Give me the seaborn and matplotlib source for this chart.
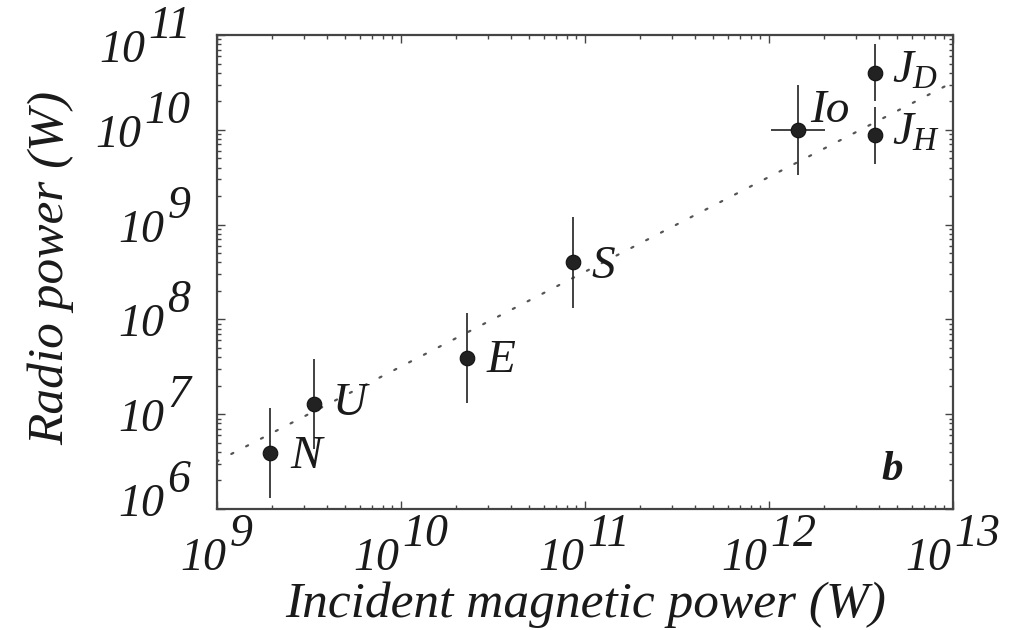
import numpy as np
import pandas as pd
import matplotlib
matplotlib.use("Agg")
import matplotlib.pyplot as plt
import seaborn as sns
from matplotlib.offsetbox import TextArea, HPacker, VPacker, DrawingArea, AnnotationBbox
from matplotlib.ticker import LogLocator, NullFormatter

# ---------------- data ----------------
bodies = ["N", "U", "E", "S", "Io", "$J_D$", "$J_H$"]
incident_power = [1.95e9, 3.4e9, 2.3e10, 8.7e10, 1.45e12, 3.8e12, 3.8e12]
radio_power = [3.9e6, 1.28e7, 3.9e7, 4.0e8, 1.0e10, 4.0e10, 8.8e9]
radio_err_factor = [3.0, 3.0, 3.0, 3.0, 3.0, 2.0, 2.0]
incident_err_factor = [1.0, 1.0, 1.0, 1.0, 1.4, 1.0, 1.0]
fit_x = [1e9, 1e13]
fit_y = [10 ** 6.5, 10 ** 10.5]
x_tick_exps = [9, 10, 11, 12, 13]
y_tick_exps = [6, 7, 8, 9, 10, 11]

# ---------------- styling ----------------
# label offsets in pixels (dx, dy) relative to the point, baseline anchored
label_offsets = [(20, -15), (18, -11), (20, -14), (18, -16), (12, 8), (17, -10), (17, -10)]
# vertical nudges (pixels, positive = up) for y tick labels, as in the original
y_label_nudge = {6: 10, 11: -10}

sns.set_theme(style="ticks")
plt.rcParams["font.family"] = ["Liberation Serif", "DejaVu Serif"]
plt.rcParams["mathtext.fontset"] = "custom"
plt.rcParams["mathtext.it"] = "Liberation Serif:italic"
plt.rcParams["mathtext.rm"] = "Liberation Serif"

fig = plt.figure(figsize=(10.21, 6.30), dpi=100)
ax = fig.add_axes([216.5 / 1021, 1 - 509 / 630, 736 / 1021, 474 / 630])

df = pd.DataFrame({"x": incident_power, "y": radio_power,
                   "fy": radio_err_factor, "fx": incident_err_factor})

# fit line
ax.plot(fit_x, fit_y, color="#555555", lw=1.6, linestyle=(0, (1, 6.5)),
        dash_capstyle="round", zorder=1)

# error bars
yerr = np.vstack([df["y"] - df["y"] / df["fy"], df["y"] * df["fy"] - df["y"]])
xerr = np.vstack([df["x"] - df["x"] / df["fx"], df["x"] * df["fx"] - df["x"]])
ax.errorbar(df["x"], df["y"], yerr=yerr, xerr=xerr, fmt="none",
            ecolor="#333333", elinewidth=1.3, capsize=0, zorder=2)

sns.scatterplot(data=df, x="x", y="y", ax=ax, s=110, color="#222222",
                edgecolor="#111111", linewidth=0.8, zorder=3, legend=False)

ax.set_xscale("log")
ax.set_yscale("log")
ax.set_xlim(1e9, 1e13)
ax.set_ylim(1e6, 1e11)
ax.xaxis.set_minor_locator(LogLocator(base=10, subs=np.arange(2, 10)))
ax.yaxis.set_minor_locator(LogLocator(base=10, subs=np.arange(2, 10)))
ax.xaxis.set_minor_formatter(NullFormatter())
ax.yaxis.set_minor_formatter(NullFormatter())
ax.tick_params(which="both", direction="in", top=True, right=True,
               labelbottom=False, labelleft=False, color="#444444", width=1.0)
ax.tick_params(which="major", length=6)
ax.tick_params(which="minor", length=3)
for sp in ax.spines.values():
    sp.set_color("#444444")
    sp.set_linewidth(1.6)
ax.set_xlabel("")
ax.set_ylabel("")

tickfont = dict(fontsize=33, fontstyle="italic", color="#1a1a1a",
                family=["Liberation Serif", "DejaVu Serif"])
PX = 72 / 100  # points per pixel


def power_box(exp):
    base = TextArea("10", textprops=tickfont)
    sup = TextArea(str(exp), textprops=tickfont)
    spacer = DrawingArea(1, 24 * PX)
    left = VPacker(children=[spacer, base], align="left", pad=0, sep=0)
    return HPacker(children=[left, sup], align="top", pad=0, sep=2)


for e in x_tick_exps:
    ab = AnnotationBbox(power_box(e), (10.0 ** e, 0),
                        xycoords=("data", "axes fraction"),
                        xybox=(0, -4 * PX), boxcoords="offset points",
                        box_alignment=(0.5, 1), frameon=False, pad=0,
                        annotation_clip=False)
    ax.add_artist(ab)

for e in y_tick_exps:
    dy = -27 + y_label_nudge.get(e, 0)
    ab = AnnotationBbox(power_box(e), (0, 10.0 ** e),
                        xycoords=("axes fraction", "data"),
                        xybox=(-26 * PX, dy * PX), boxcoords="offset points",
                        box_alignment=(1, 0), frameon=False, pad=0,
                        annotation_clip=False)
    ax.add_artist(ab)

# point labels
for name, xv, yv, (dx, dy) in zip(bodies, incident_power, radio_power, label_offsets):
    ax.annotate(name, (xv, yv), xytext=(dx, dy), textcoords="offset pixels",
                ha="left", va="baseline", fontsize=34, fontstyle="italic",
                color="#1a1a1a")

ax.text(0.932, 0.061, "b", transform=ax.transAxes, ha="right", va="baseline",
        fontsize=31, fontstyle="italic", fontweight="bold", color="#1a1a1a")

fig.text(586 / 1021, 1 - 582 / 630, "Incident magnetic power (W)", ha="center",
         va="top", fontsize=37, fontstyle="italic", color="#1a1a1a")
fig.text(74 / 1021, 1 - 268 / 630, "Radio power (W)", ha="right", va="center",
         rotation=90, rotation_mode="default", fontsize=37, fontstyle="italic",
         color="#1a1a1a")

fig.savefig("out.png", dpi=100, facecolor="white")
